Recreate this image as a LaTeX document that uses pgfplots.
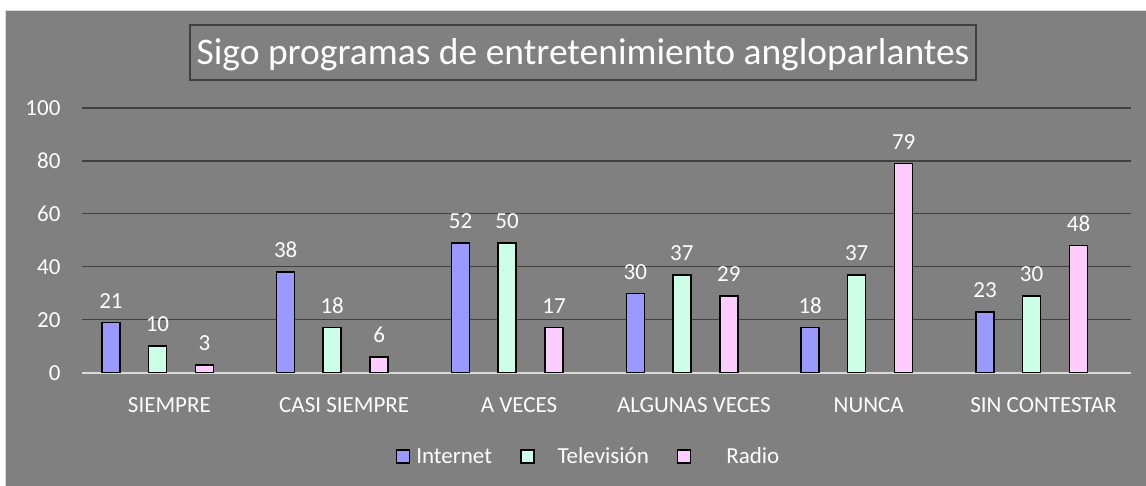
\documentclass[border=0pt]{standalone}
\usepackage{fontspec}
\setmainfont{Carlito}
\usepackage{pgfplots}
\pgfplotsset{compat=1.18}
\usepackage{pgfplotstable}
\definecolor{bg}{RGB}{128,128,128}
\definecolor{edgec}{RGB}{217,217,217}
\definecolor{gridc}{RGB}{64,64,64}
\definecolor{cInternet}{RGB}{153,153,255}
\definecolor{cTV}{RGB}{204,255,232}
\definecolor{cRadio}{RGB}{255,204,255}

\pgfplotstableread{
x y lab
0 19 21
1 38 38
2 49 52
3 30 30
4 17 18
5 23 23
}\internet
\pgfplotstableread{
x y lab
0 10 10
1 17 18
2 49 50
3 37 37
4 37 37
5 29 30
}\television
\pgfplotstableread{
x y lab
0 3 3
1 6 6
2 17 17
3 29 29
4 79 79
5 48 48
}\radio

\begin{document}
\begin{tikzpicture}
\fill[white] (0pt,0pt) rectangle (1146pt,-486pt);
\filldraw[fill=bg, draw=edgec, line width=1pt] (5.5pt,-10.5pt) rectangle (1147pt,-487pt);
\draw[draw=gridc, fill=bg, line width=1.2pt] (190pt,-25pt) rectangle (976pt,-80pt);
\node[anchor=base, text=white, font=\fontsize{37.5}{42}\selectfont, inner sep=0pt] at (583pt,-65pt) {Sigo programas de entretenimiento angloparlantes};
\begin{axis}[
  at={(82pt,-372.7pt)}, anchor=south west,
  scale only axis, width=1049pt, height=264.7pt,
  xmin=-0.5, xmax=5.5, ymin=0, ymax=100,
  ytick={20,40,60,80,100},
  extra y ticks={0},
  extra y tick style={grid style={draw=edgec, line width=1.6pt}},
  xtick={0,1,2,3,4,5},
  xticklabels={SIEMPRE, CASI SIEMPRE, A VECES, ALGUNAS VECES, NUNCA, SIN CONTESTAR},
  ymajorgrids,
  grid style={draw=gridc, line width=1.2pt},
  axis line style={draw=none},
  tick style={draw=none},
  /pgf/number format/assume math mode=true,
  tick label style={font=\fontsize{23}{27}\selectfont, text=white},
  yticklabel style={xshift=-18pt},
  xticklabel style={yshift=-21pt},
  bar width=18pt,
  point meta=explicit symbolic,
  nodes near coords,
  every node near coord/.append style={font=\fontsize{23}{27}\selectfont, text=white, yshift=10pt},
  legend columns=-1,
  legend style={at={(0.299,-0.3166)}, anchor=west, draw=none, fill=none, inner sep=0pt,
    font=\fontsize{23}{27}\selectfont, text=white,
    /tikz/every even column/.append style={column sep=26pt}},
  legend image code/.code={\draw[#1, line width=1.5pt] (0pt,-6.5pt) rectangle (13pt,6.5pt);},
]
\addplot[ybar, bar shift=-58.5pt, fill=cInternet, draw=black, line width=1.5pt,
  every node near coord/.append style={xshift=-58.5pt}] table[x=x, y=y, meta=lab] {\internet};
\addplot[ybar, bar shift=-12pt, fill=cTV, draw=black, line width=1.5pt,
  every node near coord/.append style={xshift=-12pt}] table[x=x, y=y, meta=lab] {\television};
\addplot[ybar, bar shift=35pt, fill=cRadio, draw=black, line width=1.5pt,
  every node near coord/.append style={xshift=35pt}] table[x=x, y=y, meta=lab] {\radio};
\legend{\hspace{4pt}Internet, \hspace{21pt}Televisión, \hspace{33pt}Radio}
\end{axis}
\pgfresetboundingbox
\useasboundingbox (0pt,0pt) rectangle (1146pt,-486pt);
\end{tikzpicture}
\end{document}
